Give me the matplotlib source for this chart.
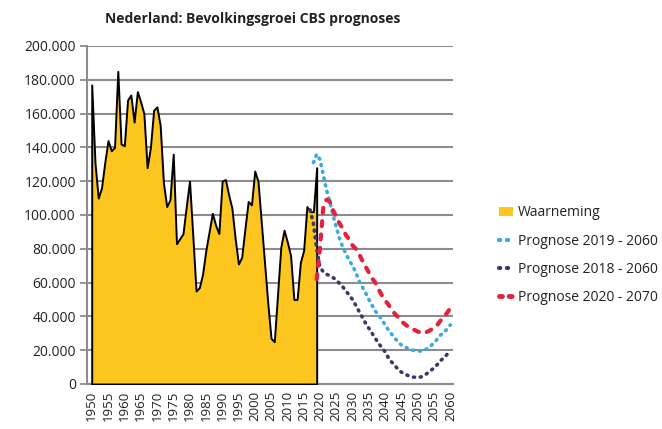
import numpy as np
import matplotlib
matplotlib.use('Agg')
import matplotlib.pyplot as plt
from matplotlib.ticker import FuncFormatter
from matplotlib.lines import Line2D
from matplotlib.patches import Patch

plt.rcParams['font.family'] = ['Open Sans', 'DejaVu Sans']

# bevolkingsgroei per jaar (waarneming), 1950 - 2019
obs_start = 1950
waarneming = [177000, 131000, 110000, 116000, 131000, 144000, 138000, 140000, 185000, 142000,
              141000, 168000, 171000, 155000, 173000, 167000, 160000, 128000, 140000, 162000,
              164000, 153000, 119000, 105000, 109000, 136000, 83000, 86000, 89000, 105000,
              120000, 88000, 55000, 57000, 65000, 79000, 90000, 101000, 94000, 89000,
              120000, 121000, 112000, 104000, 86000, 71000, 75000, 92000, 108000, 106000,
              126000, 120000, 96000, 72000, 48000, 27000, 25000, 53000, 81000, 91000,
              84000, 76000, 50000, 50000, 72000, 79000, 105000, 102000, 102000, 128000]

# prognoses
p2019_start = 2018
prognose_2019 = [131000, 136000, 133000, 124000, 115000, 108000, 100000, 93000, 86000, 81000,
                 77000, 73000, 70000, 66000, 61000, 57500, 54000, 50000, 46500, 43000,
                 41000, 38000, 35000, 32000, 29500, 27000, 25000, 23000, 22000, 21000,
                 20000, 20000, 19500, 19500, 20000, 21000, 22500, 24500, 26500, 29000,
                 30500, 32500, 35000]

p2018_start = 2017
prognose_2018 = [103000, 95000, 80000, 69000, 66500, 65000, 64000, 63000, 61500, 59500,
                 57500, 55000, 52500, 50000, 46500, 43000, 39500, 36000, 33000, 30000,
                 27000, 24000, 21500, 19000, 15500, 13000, 11000, 8500, 7000, 6000,
                 5000, 4300, 4000, 3800, 4200, 5000, 6500, 8000, 9500, 11500,
                 13800, 15500, 17500, 19500]

p2020_start = 2019
prognose_2020 = [62000, 80000, 104000, 109000, 108000, 103000, 99000, 95000, 92000, 88000,
                 85500, 82000, 80000, 77000, 73000, 69500, 66000, 62500, 60000, 56000,
                 52500, 49500, 47000, 44000, 41500, 39500, 37000, 35500, 34000, 33000,
                 32000, 31000, 30500, 30000, 31000, 32000, 33500, 35000, 37500, 40000,
                 42000, 45000]

geel = '#fcc520'
blauw = '#3aa9e0'
paars = '#39376b'
rood = '#e5213e'
grijs = '#8c8c8c'

jaren_obs = np.arange(obs_start, obs_start + len(waarneming))
j19 = np.arange(p2019_start, p2019_start + len(prognose_2019))
j18 = np.arange(p2018_start, p2018_start + len(prognose_2018))
j20 = np.arange(p2020_start, p2020_start + len(prognose_2020))

fig = plt.figure(figsize=(6.62, 4.29), dpi=100)
ax = fig.add_axes([0.1314, 0.1049, 0.5533, 0.7879])

ax.fill_between(jaren_obs, waarneming, 0, facecolor=geel, edgecolor='black', linewidth=1.4, zorder=3)

ax.plot(j19, prognose_2019, color=blauw, lw=2.6, linestyle=(0, (0.3, 1.6)),
        dash_capstyle='round', zorder=4)
ax.plot(j18, prognose_2018, color=paars, lw=2.6, linestyle=(0, (0.3, 1.6)),
        dash_capstyle='round', zorder=4)
ax.plot(j20, prognose_2020, color=rood, lw=3, linestyle=(0, (1.2, 2.0)),
        dash_capstyle='round', zorder=5)

ax.set_xlim(1948.55, 2060.9)
ax.set_ylim(0, 200000)
ax.set_yticks(np.arange(0, 200001, 20000))
ax.yaxis.set_major_formatter(FuncFormatter(lambda v, p: f'{v:,.0f}'.replace(',', '.')))
ax.set_xticks(np.arange(1950, 2061, 5))
ax.tick_params(axis='x', length=0, labelrotation=90, labelsize=9.5, pad=5, colors='#222222')
ax.tick_params(axis='y', length=5, width=1.3, color=grijs, labelsize=10, pad=3, labelcolor='#222222')

ax.grid(axis='y', color=grijs, linewidth=1.5, zorder=0)
ax.set_axisbelow(True)
for s in ['top', 'right']:
    ax.spines[s].set_visible(False)
ax.spines['left'].set_color(grijs)
ax.spines['left'].set_linewidth(1.5)
ax.spines['bottom'].set_color(grijs)
ax.spines['bottom'].set_linewidth(1.5)

fig.text(0.382, 0.955, 'Nederland: Bevolkingsgroei CBS prognoses', ha='center', va='center',
         fontsize=10, fontweight='bold', color='#222222')

handles = [
    Patch(facecolor=geel, edgecolor='none'),
    Line2D([], [], color=blauw, lw=3, linestyle=(0, (0.3, 1.6)), dash_capstyle='round'),
    Line2D([], [], color=paars, lw=3, linestyle=(0, (0.3, 1.6)), dash_capstyle='round'),
    Line2D([], [], color=rood, lw=3.5, linestyle=(0, (0.6, 1.4)), dash_capstyle='round'),
]
labels = ['Waarneming', 'Prognose 2019 - 2060', 'Prognose 2018 - 2060', 'Prognose 2020 - 2070']
fig.legend(handles, labels, loc='center left', bbox_to_anchor=(0.745, 0.405), frameon=False,
           fontsize=10, handlelength=1.0, handletextpad=0.4, labelspacing=0.95,
           borderaxespad=0, labelcolor='#222222')

fig.savefig('out.png', dpi=100)
